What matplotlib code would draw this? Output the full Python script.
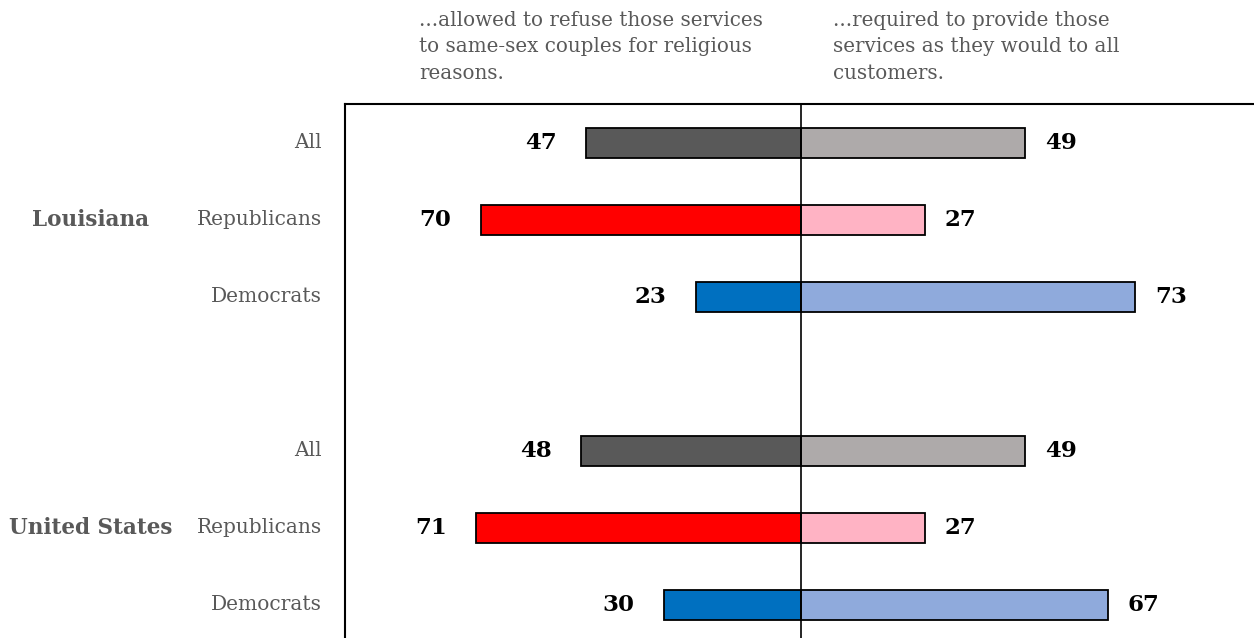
import matplotlib
matplotlib.use("Agg")
import matplotlib.pyplot as plt

groups = ["Louisiana", "United States"]
categories = ["All", "Republicans", "Democrats", "All", "Republicans", "Democrats"]
positions = [0, 1, 2, 4, 5, 6]
refuse = [47, 70, 23, 48, 71, 30]
provide = [49, 27, 73, 49, 27, 67]
left_colors = ["#595959", "#FF0000", "#0070C0", "#595959", "#FF0000", "#0070C0"]
right_colors = ["#AEAAAA", "#FFB3C4", "#8FAADC", "#AEAAAA", "#FFB3C4", "#8FAADC"]
header_left = "...allowed to refuse those services\nto same-sex couples for religious\nreasons."
header_right = "...required to provide those\nservices as they would to all\ncustomers."

W, H = 1254, 638
fig = plt.figure(figsize=(W / 100, H / 100), dpi=100)
ax = fig.add_axes([345 / W, 0, 1 - 345 / W, (638 - 104) / H])
serif = "DejaVu Serif"
gray = "#595959"

ax.barh(positions, [-v for v in refuse], height=0.39, color=left_colors,
        edgecolor="black", linewidth=1.3, zorder=2)
ax.barh(positions, provide, height=0.39, color=right_colors,
        edgecolor="black", linewidth=1.3, zorder=2)
ax.axvline(0, color="black", linewidth=1.2, zorder=3)

for p, l, r in zip(positions, refuse, provide):
    ax.annotate(str(l), (-l, p), xytext=(-21, 0), textcoords="offset points",
                ha="right", va="center", fontsize=16.5, fontweight="bold",
                family=serif, color="black")
    ax.annotate(str(r), (r, p), xytext=(14, 0), textcoords="offset points",
                ha="left", va="center", fontsize=16.5, fontweight="bold",
                family=serif, color="black")

ax.set_xlim(-99.6, 98.9)
ax.set_ylim(6.43, -0.506)
ax.set_xticks([])
ax.set_yticks([])
for s in ["right", "bottom"]:
    ax.spines[s].set_visible(False)
for s in ["left", "top"]:
    ax.spines[s].set_linewidth(1.5)

for p, c in zip(positions, categories):
    ax.annotate(c, (0, p), xycoords=("figure pixels", "data"),
                xytext=(322, 0), textcoords=("figure pixels", "offset points"),
                ha="right", va="center", fontsize=14.5, family=serif, color=gray)
for g, p in zip(groups, [1, 5]):
    ax.annotate(g, (0, p), xycoords=("figure pixels", "data"),
                xytext=(91, 0), textcoords=("figure pixels", "offset points"),
                ha="center", va="center", fontsize=15.5, fontweight="bold",
                family=serif, color=gray)

fig.text(419 / W, 1 - 11 / H, header_left, ha="left", va="top", fontsize=14.3,
         family=serif, color=gray, linespacing=1.5)
fig.text(833 / W, 1 - 11 / H, header_right, ha="left", va="top", fontsize=14.3,
         family=serif, color=gray, linespacing=1.5)

fig.savefig("out.png", dpi=100)
